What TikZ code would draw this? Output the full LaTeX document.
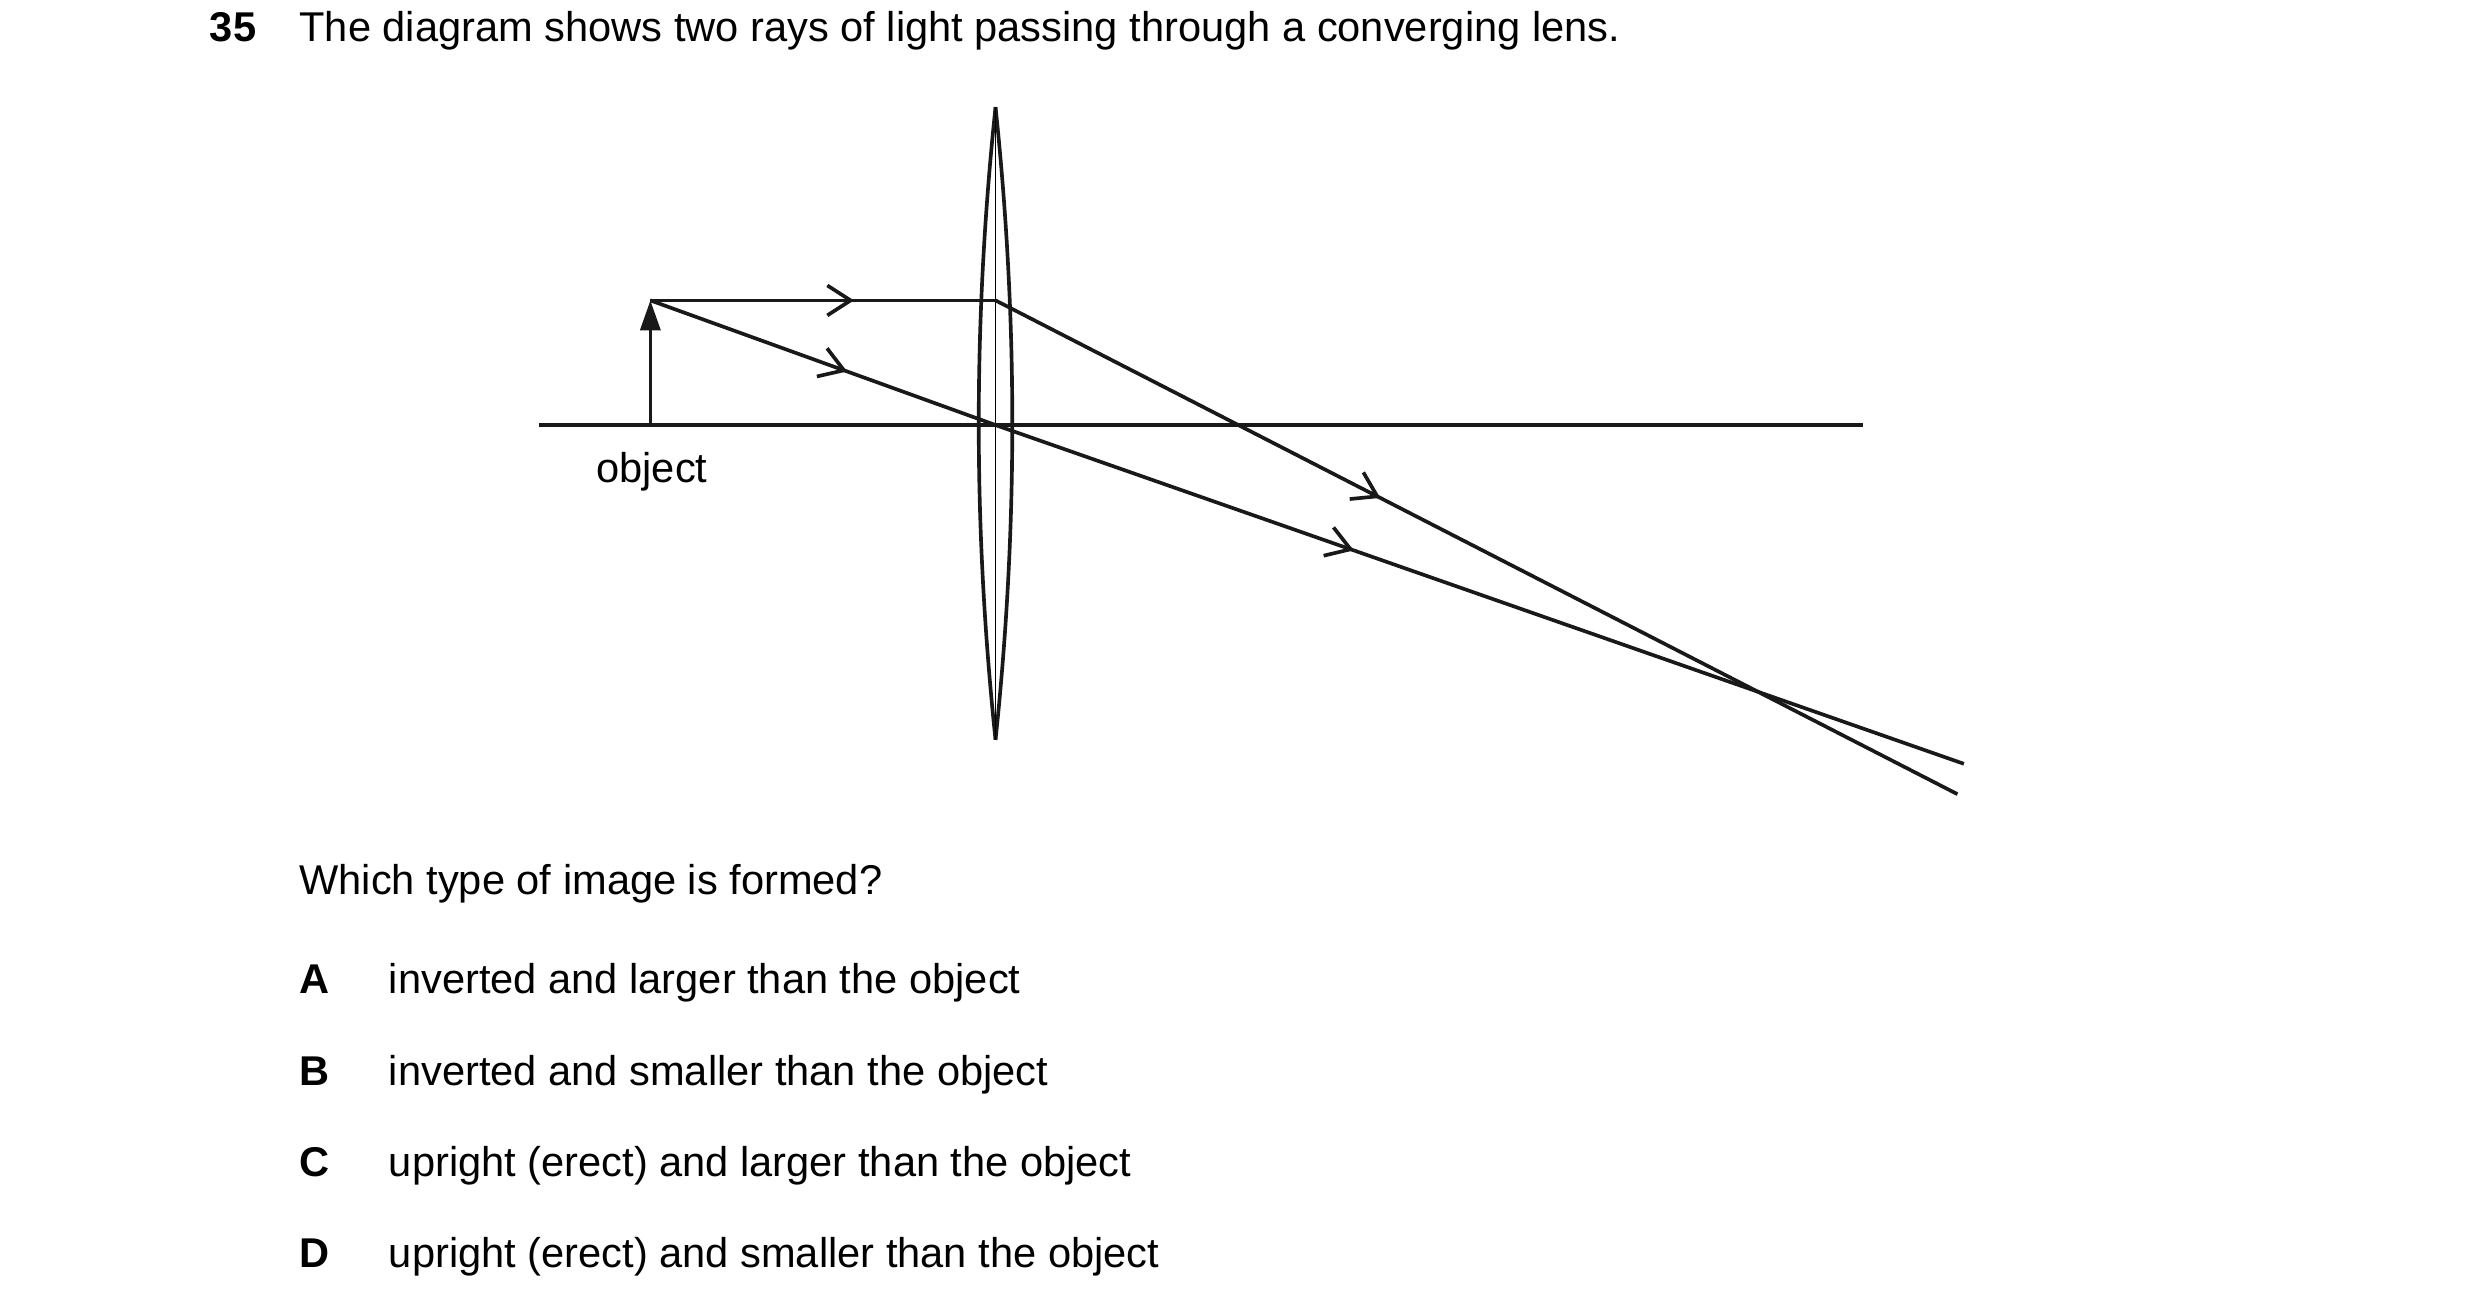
\documentclass[tikz,border=0pt]{standalone}
\usepackage{fontspec}
\setmainfont{Liberation Sans}
\usetikzlibrary{arrows.meta,decorations.markings}
\begin{document}
\begin{tikzpicture}[x=0.48pt,y=-0.48pt,
  ln/.style={line width=1.1pt,black!90},
  txt/.style={anchor=base west,inner sep=0pt,font=\fontsize{12.5}{15}\selectfont},
  lbl/.style={txt,font=\fontsize{12.5}{15}\selectfont\bfseries},
  mk/.style={postaction={decorate,decoration={markings,mark=at position #1 with {\arrow[line width=1.1pt]{Straight Barb[length=7pt,width=9pt]}}}}}]
\useasboundingbox (0,0) rectangle (1552,817);
\coordinate (top) at (407,188);
\coordinate (base) at (407,266);
\coordinate (lt) at (623,188);
\coordinate (lc) at (623,266);
\coordinate (e1) at (1225,497);
\coordinate (e2) at (1229,478);
\coordinate (ax1) at (337,266);
\coordinate (ax2) at (1166,266);
\coordinate (lenstop) at (623,67);
\coordinate (lensbot) at (623,463);
% axis
\draw[ln] (ax1) -- (ax2);
% lens
\draw[ln] (lenstop) .. controls (609,200) and (609,330) .. (lensbot);
\draw[ln] (lenstop) .. controls (637,200) and (637,330) .. (lensbot);
\draw[line width=0.5pt] (lenstop) -- (lensbot);
% object
\draw[ln,-{Triangle[length=9pt,width=6pt]}] (base) -- (top);
% rays
\draw[ln,mk=0.59] (top) -- (lt);
\draw[ln,mk=0.40] (lt) -- (e1);
\draw[ln,mk=0.57] (top) -- (lc);
\draw[ln,mk=0.37] (lc) -- (e2);
% texts
\node[lbl] (n35) at (131,26) {35};
\node[txt] (title) at (187,26) {The diagram shows two rays of light passing through a converging lens.};
\node[txt,anchor=base] (obj) at (408,302) {object};
\node[txt] (q) at (187,560) {Which type of image is formed?};
\node[lbl] (la) at (187,622) {A};
\node[txt] (ta) at (243,622) {inverted and larger than the object};
\node[lbl] (lb) at (187,679) {B};
\node[txt] (tb) at (243,679) {inverted and smaller than the object};
\node[lbl] (lc2) at (187,736) {C};
\node[txt] (tc) at (243,736) {upright (erect) and larger than the object};
\node[lbl] (ld) at (187,793) {D};
\node[txt] (td) at (243,793) {upright (erect) and smaller than the object};
\end{tikzpicture}
\end{document}
